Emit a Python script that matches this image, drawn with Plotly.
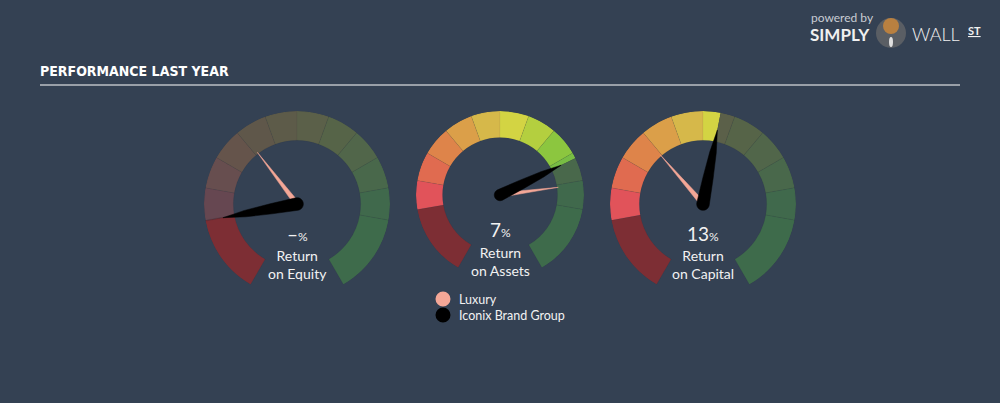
import plotly.graph_objects as go
import numpy as np

W, H = 1000, 403
BG = "#344153"

# ---- data -------------------------------------------------------------
# dial positions in degrees measured clockwise from the start of the 300° arc
seg_edges = [0, 50, 70, 90, 110, 130, 150, 170, 190, 210, 230, 250, 300]
vivid_colors = ["#7d2e34", "#e1535a", "#e06b50", "#de844a", "#db9f49", "#d6b84a",
                "#d3d443", "#b4cf3f", "#8cc63f", "#78bd44", "#4f9a4c", "#3e6b4b"]
muted_colors = ["#7d2e34", "#664751", "#674e4f", "#65544b", "#5f574a", "#5d5b49",
                "#5b6049", "#566448", "#51664a", "#49684b", "#40694c", "#3e6b4b"]

metric_labels = ["Return<br>on Equity", "Return<br>on Assets", "Return<br>on Capital"]
value_labels = ["–", "7", "13"]
company_pos = [49.5, 214, 161]      # Iconix Brand Group needle
industry_pos = [112.5, 232.5, 109]  # Luxury needle
legend_names = ["Luxury", "Iconix Brand Group"]
needle_colors = ["#f4a797", "#000000"]

# ---- layout geometry (pixels) ----------------------------------------
centers = [(297, 204), (500, 195), (703, 204)]
radii = [93, 84, 93]
value_y = [233, 229, 233]
label_y = [264, 261, 264]
R_IN = 0.685


def px(x):
    return x / W


def py(y):
    return 1 - y / H


fig = go.Figure()
layout_polars = {}


def needle(pos, length, half_w, rounded, profile):
    """Needle outline in polar coords; profile = [(fraction of length, half width)]."""
    r = [length]
    t = [pos]
    # one side, from tip back to base
    for f, hw in reversed(profile):
        d = f * length
        r.append(np.hypot(d, hw))
        t.append(pos - np.degrees(np.arctan2(hw, d)))
    if rounded:
        for k in np.linspace(270, 90, 25):
            r.append(half_w)
            t.append(pos + k)
    else:
        r += [half_w, half_w * 0.5, half_w]
        t += [pos + 270, pos + 180, pos + 90]
    for f, hw in profile:
        d = f * length
        r.append(np.hypot(d, hw))
        t.append(pos + np.degrees(np.arctan2(hw, d)))
    r.append(length)
    t.append(pos)
    return r, t


for g in range(3):
    pname = "polar" if g == 0 else f"polar{g+1}"
    sub = pname
    thetas, widths, cols = [], [], []
    cp = company_pos[g]
    for i in range(len(seg_edges) - 1):
        a, b = seg_edges[i], seg_edges[i + 1]
        if b <= cp:
            parts = [(a, b, vivid_colors[i])]
        elif a >= cp:
            parts = [(a, b, muted_colors[i])]
        else:
            parts = [(a, cp, vivid_colors[i]), (cp, b, muted_colors[i])]
        for (s, e, c) in parts:
            thetas.append((s + e) / 2)
            widths.append(e - s)
            cols.append(c)
    fig.add_trace(go.Barpolar(
        theta=thetas, width=widths, r=[1 - R_IN] * len(thetas), base=[R_IN] * len(thetas),
        marker=dict(color=cols, line=dict(color="rgba(30,38,48,0.10)", width=0.5)),
        hoverinfo="skip", showlegend=False, subplot=sub))
    # Luxury needle
    r, t = needle(industry_pos[g], 0.70, 0.028, False, [])
    fig.add_trace(go.Scatterpolar(r=r, theta=t, mode="lines", fill="toself",
                                  fillcolor=needle_colors[0], line=dict(color=needle_colors[0], width=0.5),
                                  hoverinfo="skip", showlegend=False, subplot=sub))
    # company needle
    r, t = needle(company_pos[g], 0.81, 0.068, True, [(0.35, 0.055), (0.7, 0.035)])
    fig.add_trace(go.Scatterpolar(r=r, theta=t, mode="lines", fill="toself",
                                  fillcolor=needle_colors[1], line=dict(color=needle_colors[1], width=0.5),
                                  hoverinfo="skip", showlegend=False, subplot=sub))
    cx, cy = centers[g]
    rr = radii[g]
    layout_polars[pname] = dict(
        domain=dict(x=[px(cx - rr), px(cx + rr)], y=[py(cy + rr), py(cy - rr)]),
        bgcolor="rgba(0,0,0,0)", barmode="overlay",
        radialaxis=dict(range=[0, 1], visible=False),
        angularaxis=dict(rotation=240, direction="clockwise", visible=False),
    )

annotations = []
FONT = "Lato, Open Sans, sans-serif"
for g in range(3):
    cx, cy = centers[g]
    annotations.append(dict(
        x=px(cx), y=py(value_y[g]), xref="paper", yref="paper", showarrow=False,
        text=f"{value_labels[g]}<span style='font-size:12px'>%</span>",
        font=dict(family=FONT, size=19, color="#f2f2f2"), xanchor="center", yanchor="middle"))
    annotations.append(dict(
        x=px(cx), y=py(label_y[g]), xref="paper", yref="paper", showarrow=False,
        text=metric_labels[g], font=dict(family=FONT, size=14, color="#f2f2f2"),
        xanchor="center", yanchor="middle"))

# legend
leg_y = [299, 315]
shapes = []
for i, name in enumerate(legend_names):
    shapes.append(dict(type="circle", xref="paper", yref="paper", xsizemode="pixel", ysizemode="pixel",
                       xanchor=px(443), yanchor=py(leg_y[i]), x0=-7.5, x1=7.5, y0=-7.5, y1=7.5,
                       fillcolor=needle_colors[i], line=dict(width=0)))
    annotations.append(dict(x=px(457), y=py(leg_y[i]), xref="paper", yref="paper", showarrow=False,
                            text=name, font=dict(family=FONT, size=12.5, color="#f2f2f2"),
                            xanchor="left", yanchor="middle"))

# title and rule
annotations.append(dict(x=px(38), y=py(71), xref="paper", yref="paper", showarrow=False,
                        text="<b>PERFORMANCE LAST YEAR</b>",
                        font=dict(family="DejaVu Sans Condensed, Liberation Sans Narrow, sans-serif",
                                  size=14, color="#ffffff"),
                        xanchor="left", yanchor="middle"))
shapes.append(dict(type="line", xref="paper", yref="paper", x0=px(40), x1=px(960), y0=py(85), y1=py(85),
                   line=dict(color="#ffffff", width=1)))

# logo
annotations += [
    dict(x=px(809), y=py(18), xref="paper", yref="paper", showarrow=False, text="powered by",
         font=dict(family=FONT, size=12, color="#c9cdd3"), xanchor="left", yanchor="middle"),
    dict(x=px(808), y=py(34), xref="paper", yref="paper", showarrow=False, text="<b>SIMPLY</b>",
         font=dict(family=FONT, size=17, color="#f0f0f0"), xanchor="left", yanchor="middle"),
    dict(x=px(910), y=py(34), xref="paper", yref="paper", showarrow=False, text="WALL",
         font=dict(family=FONT, size=18, color="#f0f0f0", weight=300), xanchor="left", yanchor="middle"),
    dict(x=px(966), y=py(30), xref="paper", yref="paper", showarrow=False, text="<b>ST</b>",
         font=dict(family=FONT, size=11, color="#f0f0f0", lineposition="under"),
         xanchor="left", yanchor="middle"),
]
shapes += [
    dict(type="circle", xref="paper", yref="paper", xsizemode="pixel", ysizemode="pixel",
         xanchor=px(891), yanchor=py(33), x0=-15, x1=15, y0=-15, y1=15,
         fillcolor="#5a5e64", line=dict(width=0)),
    dict(type="circle", xref="paper", yref="paper", xsizemode="pixel", ysizemode="pixel",
         xanchor=px(891), yanchor=py(26), x0=-8, x1=8, y0=-8, y1=8,
         fillcolor="#b98040", line=dict(width=0)),
    dict(type="circle", xref="paper", yref="paper", xsizemode="pixel", ysizemode="pixel",
         xanchor=px(891), yanchor=py(42), x0=-2, x1=2, y0=-5, y1=5,
         fillcolor="#e0e0e0", line=dict(width=0)),
]

fig.update_layout(
    width=W, height=H, margin=dict(l=0, r=0, t=0, b=0),
    paper_bgcolor=BG, plot_bgcolor=BG, showlegend=False,
    annotations=annotations, shapes=shapes, **layout_polars)

fig.write_html("out.html", config={"displayModeBar": False},
               post_script="document.body.style.margin='0px';document.body.style.overflow='hidden';")
